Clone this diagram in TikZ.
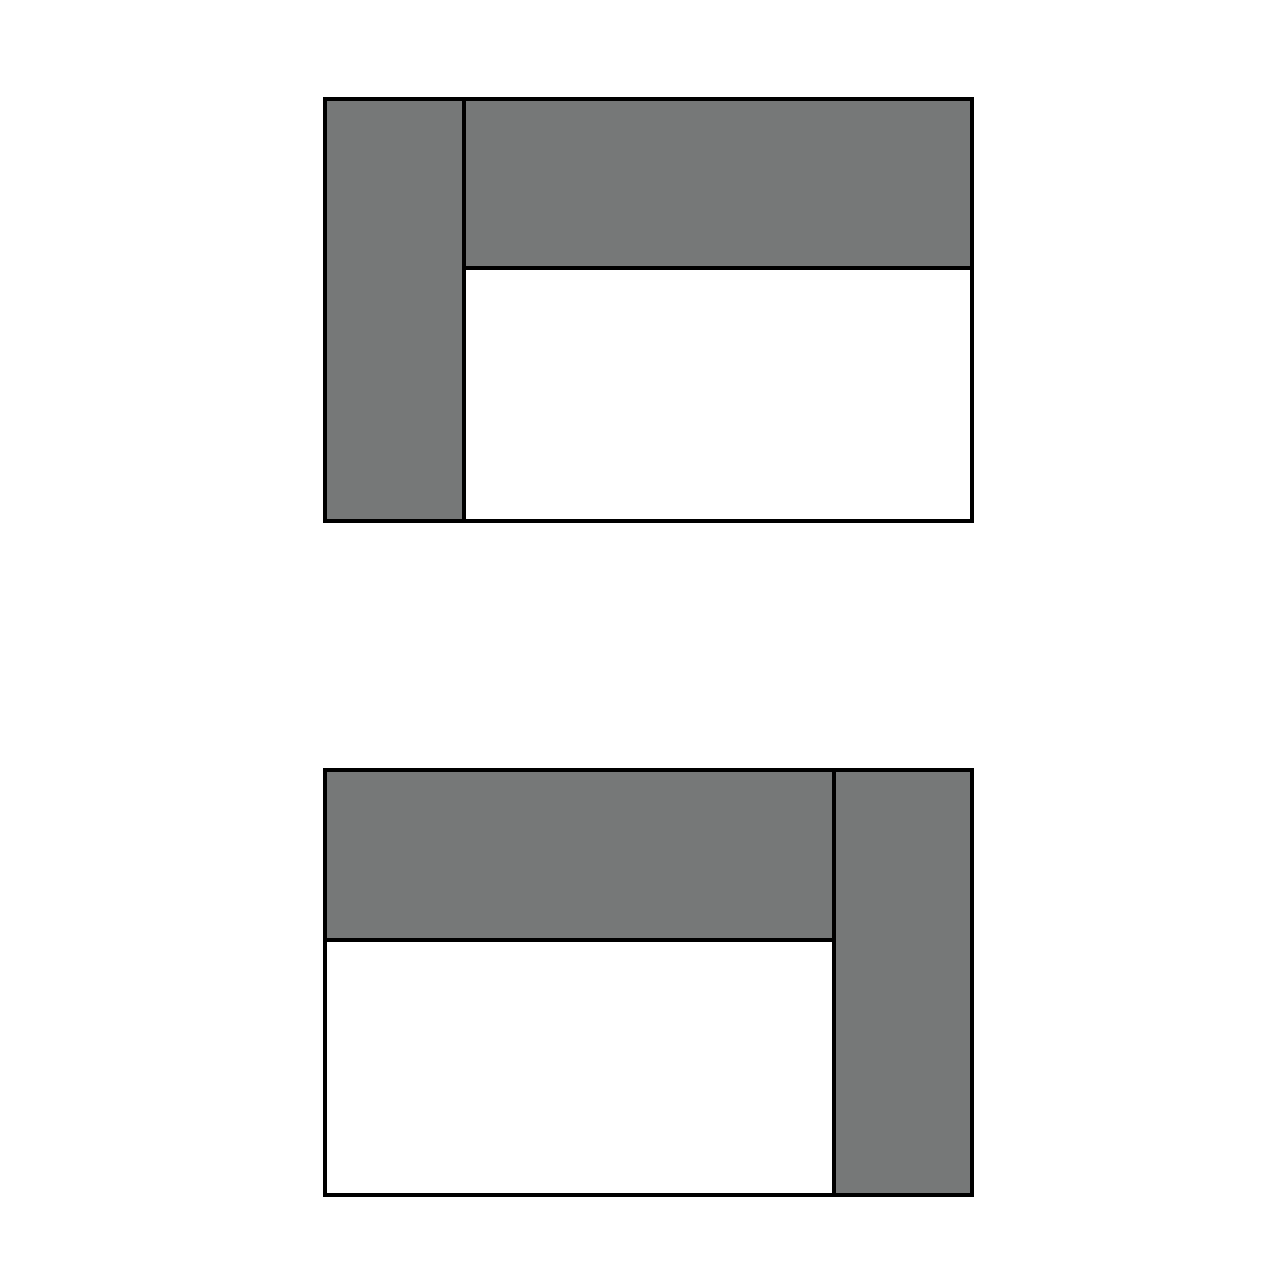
\documentclass[tikz,border=0pt]{standalone}
\usepackage{xcolor}
\usepackage{tikz}
\definecolor{panelgray}{RGB}{118,120,120}
\tikzset{panel/.style={draw=black,line width=1.2pt,line join=miter}}

\begin{document}
\begin{tikzpicture}
		\useasboundingbox (0,0) rectangle (12.8,12.8);
		%
		% top block
		\fill[panelgray] (3.25,7.59) rectangle (4.64,11.81);
		\fill[panelgray] (4.64,10.12) rectangle (9.72,11.81);
		\fill[white] (4.64,7.59) rectangle (9.72,10.12);
		\draw[panel] (3.25,7.59) rectangle (9.72,11.81);
		\draw[panel] (4.64,7.59) -- (4.64,11.81);
		\draw[panel] (4.64,10.12) -- (9.72,10.12);
		%
		% bottom block
		\fill[panelgray] (8.34,0.85) rectangle (9.72,5.10);
		\fill[panelgray] (3.25,3.40) rectangle (8.34,5.10);
		\fill[white] (3.25,0.85) rectangle (8.34,3.40);
		\draw[panel] (3.25,0.85) rectangle (9.72,5.10);
		\draw[panel] (8.34,0.85) -- (8.34,5.10);
		\draw[panel] (3.25,3.40) -- (8.34,3.40);
\end{tikzpicture}
\end{document}
